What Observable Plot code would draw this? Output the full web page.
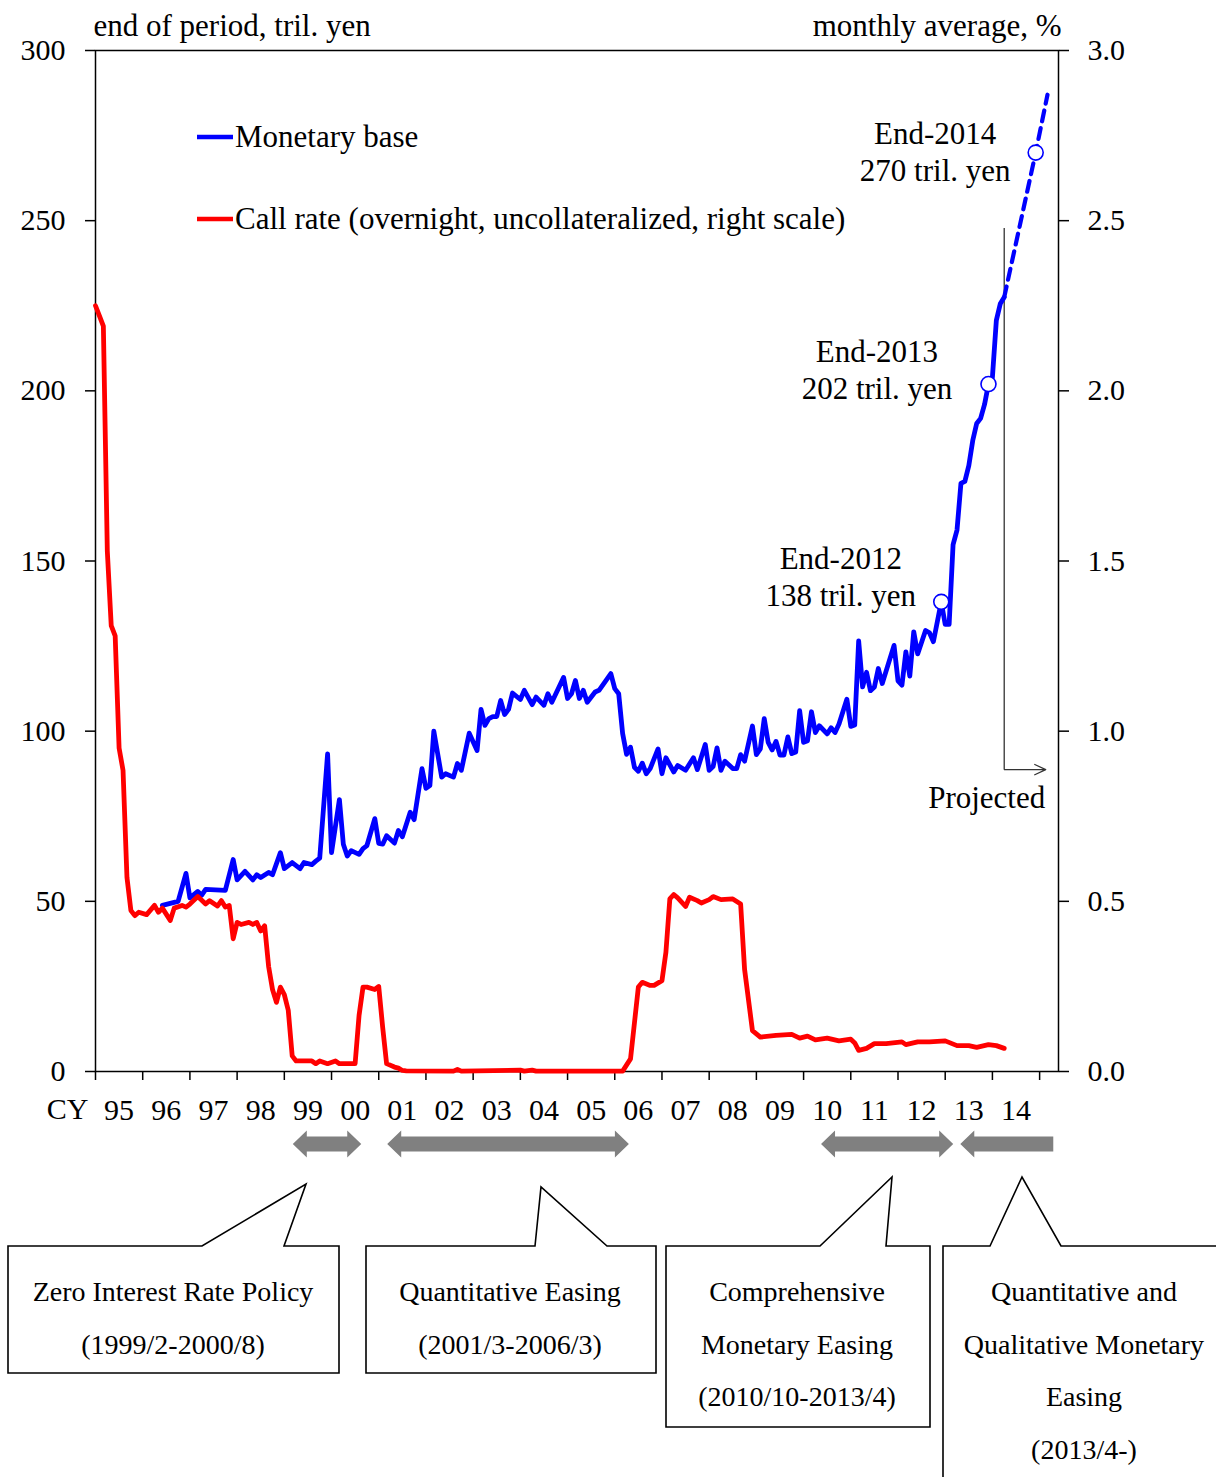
<!DOCTYPE html>
<html><head><meta charset="utf-8">
<script src="https://cdn.jsdelivr.net/npm/d3@7"></script>
<script src="https://cdn.jsdelivr.net/npm/@observablehq/plot@0.6"></script>
<style>html,body{margin:0;padding:0;background:#fff} svg{display:block}</style>
</head><body><div id="chart"></div>
<script>
// ---- Monetary base (end of period, tril. yen) ----
const baseMonths = ["1996-06","1996-10","1996-12","1997-01","1997-03","1997-04","1997-05","1997-10","1997-12","1998-01","1998-03","1998-05","1998-06","1998-07","1998-09","1998-10","1998-12","1999-01","1999-03","1999-05","1999-06","1999-08","1999-09","1999-10","1999-12","2000-01","2000-03","2000-04","2000-05","2000-06","2000-08","2000-09","2000-10","2000-12","2001-01","2001-02","2001-03","2001-05","2001-06","2001-07","2001-09","2001-10","2001-12","2002-01","2002-02","2002-03","2002-05","2002-06","2002-08","2002-09","2002-10","2002-12","2003-02","2003-03","2003-04","2003-05","2003-06","2003-07","2003-08","2003-09","2003-10","2003-11","2004-01","2004-02","2004-04","2004-05","2004-07","2004-08","2004-09","2004-12","2005-01","2005-02","2005-03","2005-04","2005-05","2005-06","2005-08","2005-09","2005-12","2006-01","2006-02","2006-03","2006-04","2006-05","2006-06","2006-07","2006-08","2006-09","2006-10","2006-12","2007-01","2007-02","2007-04","2007-05","2007-07","2007-09","2007-10","2007-12","2008-01","2008-02","2008-03","2008-04","2008-05","2008-07","2008-08","2008-09","2008-10","2008-12","2009-01","2009-02","2009-03","2009-04","2009-05","2009-06","2009-07","2009-08","2009-09","2009-10","2009-11","2009-12","2010-01","2010-02","2010-03","2010-04","2010-05","2010-07","2010-08","2010-09","2010-10","2010-12","2011-01","2011-02","2011-03","2011-04","2011-05","2011-06","2011-07","2011-08","2011-09","2011-12","2012-01","2012-02","2012-03","2012-04","2012-05","2012-06","2012-08","2012-09","2012-10","2012-12","2013-01","2013-02","2013-03","2013-04","2013-05","2013-06","2013-07","2013-08","2013-09","2013-10","2013-11","2013-12","2014-01","2014-02","2014-03","2014-04"];
const baseValues = [48.8,50,58.2,51,52.9,51.8,53.5,53.2,62.3,56.3,58.8,56.3,57.8,57,58.5,57.8,64.3,59.6,61.4,59.6,61.4,60.8,61.8,62.7,93.3,64.3,79.9,66.8,63.3,64.9,63.8,65.5,66.4,74.3,67,66.8,69.3,67.1,70.8,69,76.2,74,89,83.2,84,100,86.5,87.5,86.5,90.5,88.5,99.4,94.3,106.4,101.7,103.7,104.3,104.3,109,104.9,106.4,111.2,109.3,112,107.8,110,107.6,111,108.5,115.8,109.6,111,114.9,109.6,112,108.5,111.5,112,116.9,112.5,111,99.3,93.2,95.3,89.4,88.2,90.6,87.5,89,94.8,87.5,92.2,88,89.9,88.5,92.2,88.7,96.1,88.5,89.6,95.1,88.5,91.2,89,89,93.1,91.2,101.5,93.1,94.8,103.7,96.7,94.5,97,93,93,98.3,93.4,93.9,106,96.7,97.2,105.7,99.6,101.6,99.2,101,99.6,102.1,109.4,101.4,101.8,126.5,113,117.3,111.9,113,118.4,114,125.2,114.8,113.5,123.3,116.2,129.2,122.7,129.6,128.9,126.3,138,131.4,131.4,154.8,159.1,172.8,173.4,178,185.4,190.4,191.9,196,202,204,220.7,225.6,227.5];

// ---- Projection (dashed) ----
const projMonths = ["2014-04","2014-12","2015-03"];
const projValues = [227.5,270,287];

// ---- Call rate (monthly average, %) ----
const rateMonths = ["1995-01","1995-02","1995-03","1995-04","1995-05","1995-06","1995-07","1995-08","1995-09","1995-10","1995-11","1995-12","1996-02","1996-04","1996-05","1996-06","1996-08","1996-09","1996-11","1996-12","1997-01","1997-03","1997-05","1997-06","1997-08","1997-09","1997-10","1997-11","1997-12","1998-01","1998-02","1998-04","1998-05","1998-06","1998-07","1998-08","1998-09","1998-10","1998-11","1998-12","1999-01","1999-02","1999-03","1999-04","1999-08","1999-09","1999-10","1999-12","2000-02","2000-03","2000-07","2000-08","2000-09","2000-10","2000-12","2001-01","2001-02","2001-03","2001-05","2001-06","2001-07","2001-08","2002-08","2002-09","2002-10","2004-01","2004-02","2004-04","2004-05","2006-03","2006-05","2006-07","2006-08","2006-10","2006-11","2007-01","2007-02","2007-03","2007-04","2007-05","2007-07","2007-08","2007-10","2007-11","2008-01","2008-02","2008-04","2008-07","2008-09","2008-10","2008-12","2009-02","2009-06","2009-10","2009-12","2010-02","2010-04","2010-07","2010-10","2011-01","2011-02","2011-03","2011-05","2011-07","2011-10","2012-02","2012-03","2012-06","2012-09","2013-01","2013-04","2013-07","2013-09","2013-12","2014-02","2014-04"];
const rateValues = [2.25,2.22,2.19,1.53,1.31,1.28,0.95,0.885,0.57,0.473,0.458,0.468,0.461,0.488,0.468,0.48,0.444,0.48,0.488,0.483,0.492,0.514,0.492,0.502,0.486,0.502,0.483,0.488,0.39,0.438,0.432,0.438,0.432,0.438,0.413,0.428,0.309,0.241,0.203,0.248,0.226,0.18,0.046,0.031,0.031,0.023,0.031,0.023,0.031,0.023,0.023,0.165,0.248,0.248,0.241,0.25,0.13,0.023,0.013,0.01,0.003,0.002,0.001,0.006,0.001,0.004,0.001,0.004,0.001,0.001,0.037,0.248,0.262,0.253,0.253,0.267,0.35,0.507,0.52,0.51,0.485,0.512,0.502,0.495,0.505,0.514,0.505,0.507,0.492,0.30,0.12,0.101,0.106,0.109,0.098,0.104,0.093,0.098,0.09,0.095,0.084,0.062,0.068,0.082,0.082,0.087,0.079,0.087,0.087,0.09,0.076,0.076,0.071,0.079,0.076,0.068];

// ---- Highlighted year-end values ----
const markMonths = ["2012-12","2013-12","2014-12"];
const markValues = [138,202,270];
const markLine1 = ["End-2012","End-2013","End-2014"];
const markLine2 = ["138 tril. yen","202 tril. yen","270 tril. yen"];

// ---- Axes ----
const yearTicks = d3.range(1995, 2016);
const yearLabels = ["95","96","97","98","99","00","01","02","03","04","05","06","07","08","09","10","11","12","13","14"];
const leftTicks = [0,50,100,150,200,250,300];
const rightTickLabels = ["0.0","0.5","1.0","1.5","2.0","2.5","3.0"];

// ---- Policy periods (arrow spans as drawn, decimal years) ----
const policyStart = [1999.19, 2001.19, 2010.38, 2013.33];
const policyEnd = [2000.64, 2006.31, 2013.18, 2015.3];
const policyOpenEnd = [false, false, false, true];
const policyText = [
  ["Zero Interest Rate Policy","(1999/2-2000/8)"],
  ["Quantitative Easing","(2001/3-2006/3)"],
  ["Comprehensive","Monetary Easing","(2010/10-2013/4)"],
  ["Quantitative and","Qualitative Monetary","Easing","(2013/4-)"]
];

// ---- Projected marker ----
const projMarkTop = 247.7, projMarkLevel = 88.7, projMarkEnd = 2015.13;

const toT = s => { const [y, m] = s.split("-").map(Number); return y + (m - 1) / 12; };
const base = baseMonths.map((m, i) => ({t: toT(m), v: baseValues[i]}));
const proj = projMonths.map((m, i) => ({t: toT(m), v: projValues[i]}));
const rate = rateMonths.map((m, i) => ({t: toT(m), r: rateValues[i]}));
const marks = markMonths.map((m, i) => ({t: toT(m), v: markValues[i], a: markLine1[i], b: markLine2[i]}));
const lastT = toT(baseMonths[baseMonths.length - 1]);

const FONT = "'Liberation Serif','Times New Roman',serif";

const plot = Plot.plot({
  width: 1216, height: 1477,
  marginTop: 50, marginRight: 158, marginBottom: 406, marginLeft: 95,
  style: {fontFamily: FONT, fontSize: "30px", color: "#000", background: "#fff", overflow: "visible"},
  x: {domain: [1995, 2015.4]},
  y: {domain: [0, 300]},
  marks: [
    Plot.axisY(leftTicks, {anchor: "left", tickSize: 10, tickPadding: 20, label: null, tickFormat: d => String(d), strokeWidth: 1.5}),
    Plot.axisY(leftTicks, {anchor: "right", tickSize: 10, tickPadding: 19, label: null, tickFormat: d => rightTickLabels[leftTicks.indexOf(d)], strokeWidth: 1.5}),
    Plot.axisX(yearTicks, {anchor: "bottom", tickSize: 9, tickFormat: () => "", label: null, strokeWidth: 1.5}),
    Plot.axisX(yearTicks.slice(0, 20).map(y => y + 0.5), {anchor: "bottom", tickSize: 0, tickPadding: 27, label: null, tickFormat: d => yearLabels[Math.floor(d) - 1995]}),
    Plot.frame({stroke: "#000", strokeWidth: 1.5}),
    Plot.text(["CY"], {frameAnchor: "bottom-left", dx: -7, dy: 38, textAnchor: "end", lineAnchor: "middle", fontSize: 30}),
    Plot.text(["end of period, tril. yen"], {frameAnchor: "top-left", dx: -2, dy: -24, textAnchor: "start", lineAnchor: "middle", fontSize: 31}),
    Plot.text(["monthly average, %"], {frameAnchor: "top-right", dx: 3, dy: -24, textAnchor: "end", lineAnchor: "middle", fontSize: 31}),
    Plot.ruleX([lastT], {y1: projMarkTop, y2: projMarkLevel, stroke: "#333", strokeWidth: 1.3}),
    Plot.arrow([{x1: lastT, x2: projMarkEnd, y: projMarkLevel}], {x1: "x1", x2: "x2", y1: "y", y2: "y", stroke: "#333", strokeWidth: 1.3, headLength: 14, headAngle: 50}),
    Plot.line(base, {x: "t", y: "v", stroke: "#0000ff", strokeWidth: 4.8, strokeLinejoin: "round"}),
    Plot.line(proj, {x: "t", y: "v", stroke: "#0000ff", strokeWidth: 4.2, strokeDasharray: "11,7"}),
    Plot.line(rate, {x: "t", y: d => d.r * 100, stroke: "#ff0000", strokeWidth: 4.8, strokeLinejoin: "round"}),
    Plot.dot(marks, {x: "t", y: "v", r: 7.5, fill: "#fff", stroke: "#0000ff", strokeWidth: 1.6})
  ]
});

const sx = plot.scale("x").apply, sy = plot.scale("y").apply;
const svg = d3.select(plot);
const g = svg.append("g").attr("font-family", FONT).attr("fill", "#000").attr("text-anchor", "start");

// legend
const legend = [["#0000ff", "Monetary base", 137], ["#ff0000", "Call rate (overnight, uncollateralized, right scale)", 219]];
legend.forEach(([c, label, y]) => {
  g.append("line").attr("x1", 197).attr("x2", 233).attr("y1", y).attr("y2", y).attr("stroke", c).attr("stroke-width", 4.5);
  g.append("text").attr("x", 235).attr("y", y + 10).attr("text-anchor", "start").attr("font-size", 31).text(label);
});

// year-end annotations
const annOff = [[-100, -32, 4.6], [-111, -21.6, 15.4], [-100, -8, 29]];
marks.forEach((d, i) => {
  const [dx, d1, d2] = annOff[i];
  const x = sx(d.t) + dx, y = sy(d.v);
  g.append("text").attr("x", x).attr("y", y + d1).attr("text-anchor", "middle").attr("font-size", 31).text(d.a);
  g.append("text").attr("x", x).attr("y", y + d2).attr("text-anchor", "middle").attr("font-size", 31).text(d.b);
});

// Projected label
g.append("text").attr("x", sx(lastT) - 17).attr("y", sy(projMarkLevel) + 39).attr("text-anchor", "middle").attr("font-size", 31).text("Projected");

// policy arrows
const cy = 1144, hl = 14, bh = 7.5, hh = 13.5;
policyStart.forEach((s, i) => {
  const x1 = sx(s), x2 = sx(policyEnd[i]);
  let p;
  if (policyOpenEnd[i]) {
    p = `M${x1},${cy} L${x1+hl},${cy-hh} L${x1+hl},${cy-bh} L${x2},${cy-bh} L${x2},${cy+bh} L${x1+hl},${cy+bh} L${x1+hl},${cy+hh} Z`;
  } else {
    p = `M${x1},${cy} L${x1+hl},${cy-hh} L${x1+hl},${cy-bh} L${x2-hl},${cy-bh} L${x2-hl},${cy-hh} L${x2},${cy} L${x2-hl},${cy+hh} L${x2-hl},${cy+bh} L${x1+hl},${cy+bh} L${x1+hl},${cy+hh} Z`;
  }
  g.append("path").attr("d", p).attr("fill", "#808080");
});

// callout boxes (layout)
const boxPaths = [
  "M8,1246 L202,1246 L306,1184 L284,1246 L339,1246 L339,1373 L8,1373 Z",
  "M366,1246 L535,1246 L541,1187 L607,1246 L656,1246 L656,1373 L366,1373 Z",
  "M666,1246 L820,1246 L892,1177 L886,1246 L930,1246 L930,1427 L666,1427 Z",
  "M943,1490 L943,1246 L990,1246 L1022,1177 L1061,1246 L1230,1246 L1230,1490 Z"
];
const boxCx = [173, 510, 797, 1084];
boxPaths.forEach((d, i) => {
  g.append("path").attr("d", d).attr("fill", "#fff").attr("stroke", "#000").attr("stroke-width", 1.6).attr("stroke-linejoin", "miter");
  policyText[i].forEach((t, j) => {
    g.append("text").attr("x", boxCx[i]).attr("y", 1301 + j * 52.5).attr("text-anchor", "middle").attr("font-size", 28).text(t);
  });
});

document.getElementById("chart").appendChild(plot);
</script>
</body></html>
